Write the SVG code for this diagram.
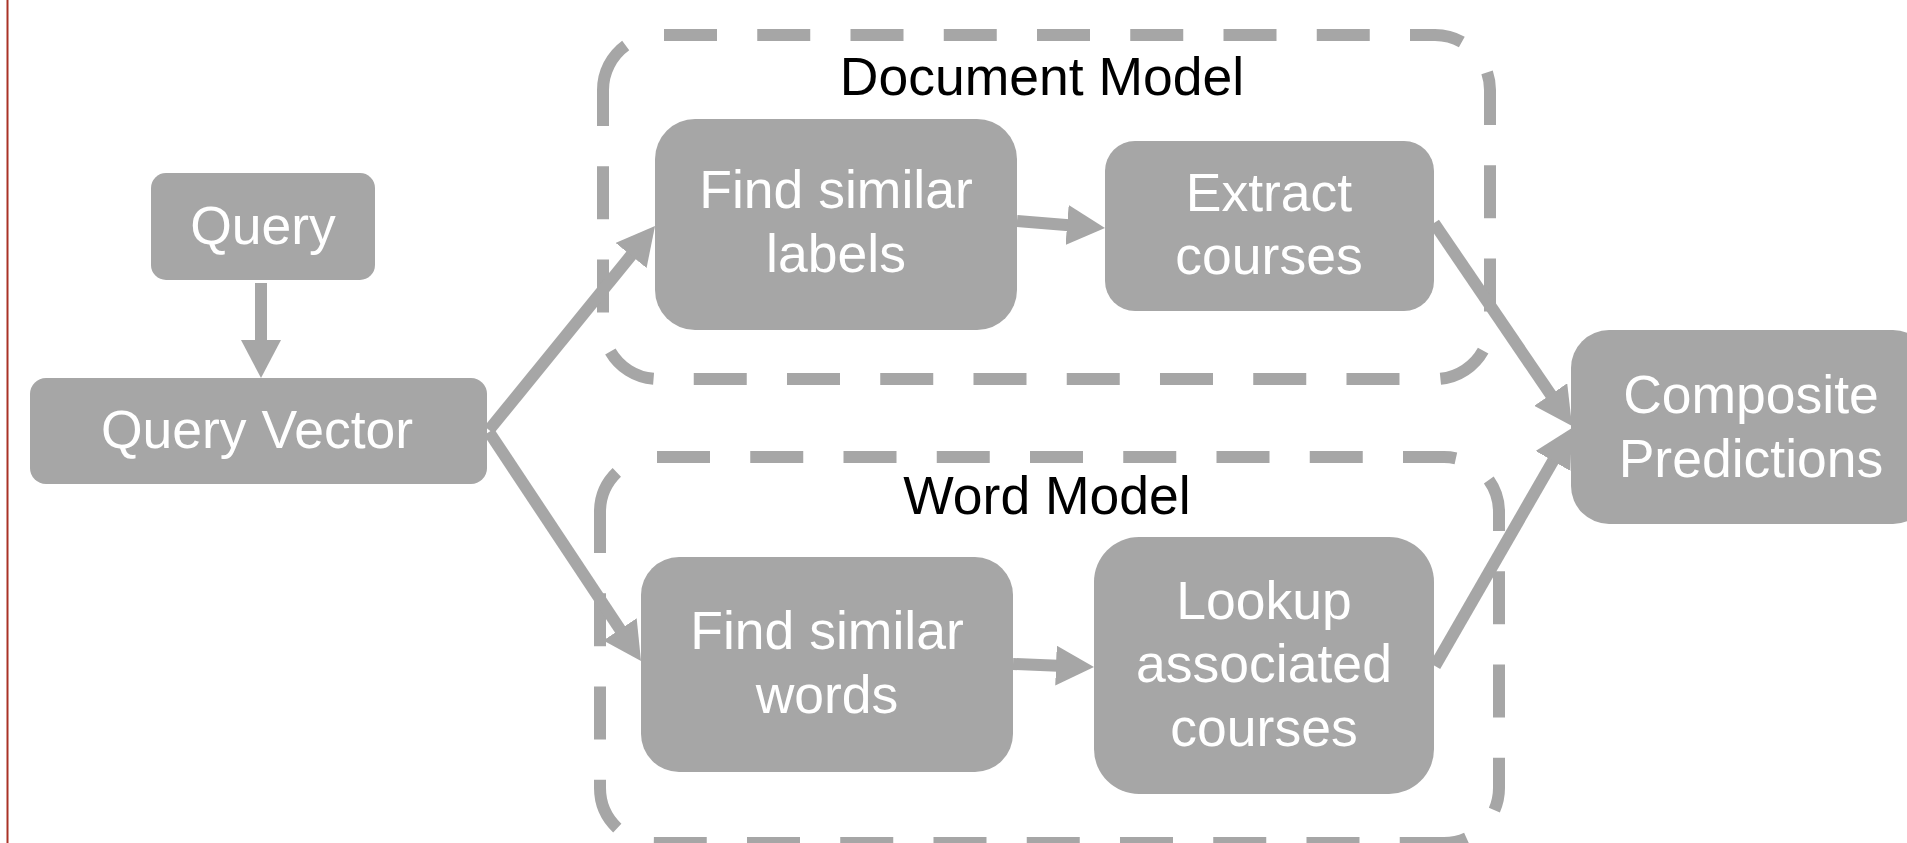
<svg xmlns="http://www.w3.org/2000/svg" width="1907" height="843" viewBox="0 0 1907 843">
<style>
.node{fill:#a6a6a6}
.lbl{font-family:"Liberation Sans",Arial,Helvetica,sans-serif;font-size:53.5px;fill:#ffffff;text-anchor:middle}
.title{font-family:"Liberation Sans",Arial,Helvetica,sans-serif;font-size:53.5px;fill:#000000;text-anchor:middle}
.grp{fill:none;stroke:#a6a6a6;stroke-width:12}
.dash{stroke-dasharray:53 40.25}
.edge{fill:none;stroke:#a6a6a6;stroke-width:12}
</style>
<defs>
<marker id="arr" viewBox="0 0 38 40" refX="2" refY="20" markerWidth="38" markerHeight="40" markerUnits="userSpaceOnUse" orient="auto">
<path d="M0,0 L38,20 L0,40 z" fill="#a6a6a6"/>
</marker>
</defs>
<rect width="1907" height="843" fill="#ffffff"/>
<line x1="7.5" y1="0" x2="7.5" y2="843" stroke="#a93226" stroke-width="2"/>
<g id="document-model">
<path class="grp" d="M603,126 L603,90 A55,55 0 0 1 625.7,45.5"/>
<path class="grp dash" stroke-dashoffset="-6" d="M658,35 L1435,35 A55,55 0 0 1 1490,90 L1490,324 A55,55 0 0 1 1435,379"/>
<path class="grp dash" stroke-dashoffset="53" d="M603,126 L603,324 A55,55 0 0 0 658,379 L1435,379"/>
<text class="title" x="1042" y="95">Document Model</text>
</g>
<g id="word-model">
<path class="grp" d="M600,553 L600,512 A55,55 0 0 1 616.8,472.4"/>
<path class="grp dash" stroke-dashoffset="-2" d="M655,457 L1444,457 A55,55 0 0 1 1499,512 L1499,788 A55,55 0 0 1 1444,843"/>
<path class="grp dash" stroke-dashoffset="53" d="M600,553 L600,788 A55,55 0 0 0 655,843 L1444,843"/>
<text class="title" x="1047" y="514">Word Model</text>
</g>
<g id="connectors">
<path class="edge" d="M261,283 L261,342" marker-end="url(#arr)"/>
<path class="edge" d="M489,430 L632.3,253.9" marker-end="url(#arr)"/>
<path class="edge" d="M489,432 L621.1,631" marker-end="url(#arr)"/>
<path class="edge" d="M1017,221 L1069.1,225.2" marker-end="url(#arr)"/>
<path class="edge" d="M1013,664 L1058,665.7" marker-end="url(#arr)"/>
<path class="edge" d="M1434,223 L1551.8,396.2" marker-end="url(#arr)"/>
<path class="edge" d="M1435,666 L1554,459.2" marker-end="url(#arr)"/>
</g>
<g id="query">
<rect class="node" x="151" y="173" width="224" height="107" rx="15"/>
<text class="lbl" x="263" y="244">Query</text>
</g>
<g id="query-vector">
<rect class="node" x="30" y="378" width="457" height="106" rx="16"/>
<text class="lbl" x="257" y="448">Query Vector</text>
</g>
<g id="find-similar-labels">
<rect class="node" x="655" y="119" width="362" height="211" rx="40"/>
<text class="lbl" x="836" y="208">Find similar</text>
<text class="lbl" x="836" y="272">labels</text>
</g>
<g id="extract-courses">
<rect class="node" x="1105" y="141" width="329" height="170" rx="30"/>
<text class="lbl" x="1269" y="211">Extract</text>
<text class="lbl" x="1269" y="274">courses</text>
</g>
<g id="find-similar-words">
<rect class="node" x="641" y="557" width="372" height="215" rx="38"/>
<text class="lbl" x="827" y="649">Find similar</text>
<text class="lbl" x="827" y="713">words</text>
</g>
<g id="lookup-associated-courses">
<rect class="node" x="1094" y="537" width="340" height="257" rx="45"/>
<text class="lbl" x="1264" y="619">Lookup</text>
<text class="lbl" x="1264" y="682">associated</text>
<text class="lbl" x="1264" y="746">courses</text>
</g>
<g id="composite-predictions">
<rect class="node" x="1571" y="330" width="360" height="194" rx="38"/>
<text class="lbl" x="1751" y="413">Composite</text>
<text class="lbl" x="1751" y="477">Predictions</text>
</g>
</svg>
